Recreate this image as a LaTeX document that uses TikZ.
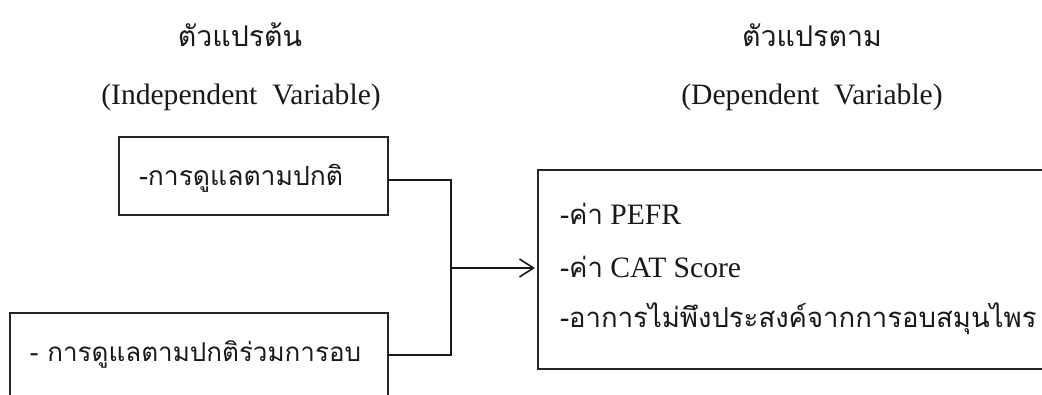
\documentclass[tikz,border=0pt]{standalone}
\usepackage{fontspec}
\setmainfont{Liberation Serif}
\newfontfamily\thai[Script=Thai]{Loma}
\usetikzlibrary{arrows.meta}
\newcommand{\thw}[1]{{\thai\fontsize{27.5}{32}\selectfont #1}}
\begin{document}
\begin{tikzpicture}[x=1pt,y=-1pt,
  every node/.style={inner sep=0pt, outer sep=0pt, text=black!90},
  lat/.style={font=\fontsize{29.6}{34}\selectfont},
  thtxt/.style={font=\thai\fontsize{27.5}{32}\selectfont},
  thtitle/.style={font=\thai\fontsize{28.5}{34}\selectfont},
  box/.style={draw=black!85, line width=1.3pt, rectangle},
  conn/.style={draw=black!90, line width=1.6pt},
]
\useasboundingbox (0,0) rectangle (1042,394);
\clip (0,0) rectangle (1042,394);
\fill[white] (0,0) rectangle (1042,394);

% titles
\node[thtitle] (t1) at (240,35) {ตัวแปรต้น};
\node[lat] (s1) at (241,97) {(Independent\ \ Variable)};
\node[thtitle] (t2) at (812,35) {ตัวแปรตาม};
\node[lat] (s2) at (812,97) {(Dependent\ \ Variable)};

% boxes
\node[box, minimum width=269pt, minimum height=78pt] (b1) at (253.5,176) {};
\node[thtxt, font=\thai\fontsize{26.5}{32}\selectfont, anchor=west] (b1t) at (139,178) {-การดูแลตามปกติ};
\node[box, minimum width=378pt, minimum height=90pt] (b2) at (199,358) {};
\node[thtxt, font=\thai\fontsize{26}{32}\selectfont, anchor=west] (b2t) at (30,354) {- การดูแลตามปกติร่วมการอบ};
\node[box, minimum width=540pt, minimum height=199pt] (b3) at (808,269.5) {};
\node[anchor=west, font=\fontsize{29.6}{34}\selectfont] (r1) at (560,214) {\thw{-ค่า} PEFR};
\node[anchor=west, font=\fontsize{29.6}{34}\selectfont] (r2) at (560,267) {\thw{-ค่า} CAT Score};
\node[thtxt, anchor=west] (r3) at (560,319) {-อาการไม่พึงประสงค์จากการอบสมุนไพร};

% connectors
\coordinate (j) at (451,268);
\draw[conn] ([yshift=-4pt]b1.east) -| (j);
\draw[conn] (b2.east |- 0,355) -| (j);
\draw[conn, -{Straight Barb[length=14pt,width=18pt,line width=1.6pt]}, shorten >=3pt] (j) -- (b3.west |- j);
\end{tikzpicture}
\end{document}
